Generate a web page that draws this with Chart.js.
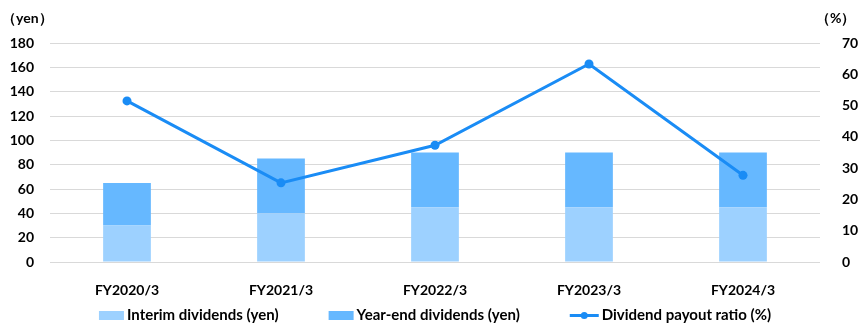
<!DOCTYPE html>
<html>
<head>
<meta charset="utf-8">
<script src="https://cdn.jsdelivr.net/npm/chart.js@4/dist/chart.umd.min.js"></script>
<style>
  html, body { margin: 0; padding: 0; background: #fff; }
  #wrap { width: 860px; height: 330px; }
</style>
</head>
<body>
<div id="wrap"><canvas id="myChart" width="860" height="330"></canvas></div>
<script>
// dividend data per fiscal year
const years = ["FY2020/3", "FY2021/3", "FY2022/3", "FY2023/3", "FY2024/3"];
const interim = [30, 40, 45, 45, 45];
const yearEnd = [35, 45, 45, 45, 45];
const payoutRatio = [51.5, 25.3, 37.3, 63.3, 27.7];
const yenTicks = [0, 20, 40, 60, 80, 100, 120, 140, 160, 180];
const pctTicks = [0, 10, 20, 30, 40, 50, 60, 70];

const FONT = "Lato, 'Liberation Sans', sans-serif";
const LIGHT = "#9dd1ff";
const MID = "#66b8ff";
const LINE = "#1a8cf5";

// axis unit labels above both y axes
const unitLabels = {
  id: "unitLabels",
  afterDraw(chart) {
    const ctx = chart.ctx;
    ctx.save();
    ctx.fillStyle = "#000";
    ctx.font = "bold 14px " + FONT;
    ctx.textBaseline = "middle";
    ctx.textAlign = "left";
    ctx.fillText("（yen）", 2, 18);
    ctx.fillText("（%）", 816, 18);
    ctx.restore();
  }
};

// legend row under the x axis: swatch, small gap, label; items 50px apart
const bottomLegend = {
  id: "bottomLegend",
  afterDraw(chart) {
    const ctx = chart.ctx;
    const y = 315.5;
    const gap = 3, spacing = 50;
    ctx.save();
    ctx.font = "bold 15px " + FONT;
    const items = chart.data.datasets.map(ds => ({
      ds,
      sw: ds.type === "line" ? 29 : 25,
      tw: ctx.measureText(ds.label).width
    }));
    const total = items.reduce((s, it) => s + it.sw + gap + it.tw, 0) + spacing * (items.length - 1);
    const area = chart.chartArea;
    let x = (area.left + area.right) / 2 - total / 2;
    items.forEach(it => {
      if (it.ds.type === "line") {
        ctx.strokeStyle = it.ds.borderColor;
        ctx.lineWidth = 3;
        ctx.beginPath(); ctx.moveTo(x, y); ctx.lineTo(x + it.sw, y); ctx.stroke();
        ctx.fillStyle = it.ds.borderColor;
        ctx.beginPath(); ctx.arc(x + it.sw / 2, y, 3.5, 0, Math.PI * 2); ctx.fill();
      } else {
        ctx.fillStyle = it.ds.backgroundColor;
        ctx.fillRect(x, y - 4.5, it.sw, 9);
      }
      x += it.sw + gap;
      ctx.fillStyle = "#000";
      ctx.textBaseline = "middle";
      ctx.textAlign = "left";
      ctx.fillText(it.ds.label, x, y);
      x += it.tw + spacing;
    });
    ctx.restore();
  }
};

new Chart(document.getElementById("myChart"), {
  type: "bar",
  data: {
    labels: years,
    datasets: [
      {
        label: "Interim dividends (yen)",
        data: interim,
        backgroundColor: LIGHT,
        yAxisID: "y",
        order: 1,
        barPercentage: 0.31,
        categoryPercentage: 1
      },
      {
        label: "Year-end dividends (yen)",
        data: yearEnd,
        backgroundColor: MID,
        yAxisID: "y",
        order: 1,
        barPercentage: 0.31,
        categoryPercentage: 1
      },
      {
        type: "line",
        label: "Dividend payout ratio (%)",
        data: payoutRatio,
        borderColor: LINE,
        backgroundColor: LINE,
        borderWidth: 3,
        pointRadius: 4.5,
        pointHoverRadius: 4.5,
        pointBorderWidth: 0,
        yAxisID: "y1",
        order: 0,
        tension: 0
      }
    ]
  },
  options: {
    responsive: false,
    animation: false,
    layout: { padding: { top: 43, left: 0, right: 0, bottom: 32 } },
    plugins: {
      tooltip: { enabled: false },
      legend: { display: false }
    },
    scales: {
      x: {
        stacked: true,
        grid: { display: false },
        border: { display: false },
        ticks: { color: "#000", font: { family: FONT, size: 14, weight: "bold" }, padding: 12 },
        afterFit(s) { s.height = 36; }
      },
      y: {
        stacked: true,
        position: "left",
        min: 0,
        max: 180,
        afterBuildTicks(s) { s.ticks = yenTicks.map(v => ({ value: v })); },
        grid: { color: "#d9d9d9", lineWidth: 1, drawTicks: false },
        border: { display: false },
        ticks: { color: "#000", font: { family: FONT, size: 14, weight: "bold" }, padding: 16 },
        afterFit(s) { s.width = 50; }
      },
      y1: {
        stacked: false,
        position: "right",
        min: 0,
        max: 70,
        afterBuildTicks(s) { s.ticks = pctTicks.map(v => ({ value: v })); },
        grid: { display: false },
        border: { display: false },
        ticks: { color: "#000", font: { family: FONT, size: 14, weight: "bold" }, padding: 14 },
        afterFit(s) { s.width = 40; }
      }
    }
  },
  plugins: [unitLabels, bottomLegend]
});
</script>
</body>
</html>
